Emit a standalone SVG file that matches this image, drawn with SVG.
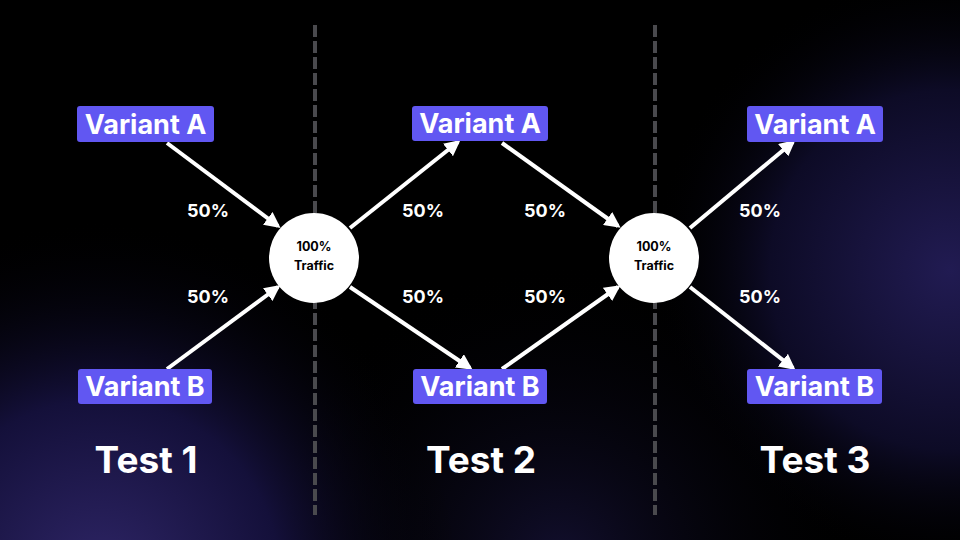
<svg xmlns="http://www.w3.org/2000/svg" width="960" height="540" viewBox="0 0 960 540">
<defs>
<radialGradient id="g1" cx="100" cy="580" r="360" gradientUnits="userSpaceOnUse">
<stop offset="0" stop-color="#2e2566"/><stop offset="0.5" stop-color="#14103a"/><stop offset="1" stop-color="#000000" stop-opacity="0"/>
</radialGradient>
<radialGradient id="g2" cx="950" cy="270" r="300" gradientUnits="userSpaceOnUse">
<stop offset="0" stop-color="#211b52"/><stop offset="0.6" stop-color="#0d0b26"/><stop offset="1" stop-color="#000000" stop-opacity="0"/>
</radialGradient>
<radialGradient id="g3" cx="560" cy="560" r="300" gradientUnits="userSpaceOnUse">
<stop offset="0" stop-color="#120f2e"/><stop offset="1" stop-color="#000000" stop-opacity="0"/>
</radialGradient>
<marker id="ah" viewBox="0 0 10 10" refX="8" refY="5" markerWidth="4" markerHeight="4" orient="auto" markerUnits="strokeWidth">
<path d="M0,0 L10,5 L0,10 z" fill="#ffffff"/>
</marker>
<style>
.box{fill:#6157f2}
.vt{font-family:Inter,"Noto Sans",sans-serif;font-weight:700;font-size:27px;fill:#ffffff;text-anchor:middle}
.pct{font-family:Inter,"Noto Sans",sans-serif;font-weight:700;font-size:18px;fill:#ffffff;text-anchor:middle}
.ct{font-family:Inter,"Noto Sans",sans-serif;font-weight:700;font-size:12.5px;fill:#000000;text-anchor:middle}
.tt{font-family:Inter,"Noto Sans",sans-serif;font-weight:700;font-size:37px;fill:#ffffff;text-anchor:middle}
.dash{stroke:#4a4a4e;stroke-width:4;stroke-dasharray:12 4}
.arr{stroke:#ffffff;stroke-width:4;fill:none;marker-end:url(#ah)}
</style>
</defs>
<rect width="960" height="540" fill="#000000"/>
<rect width="960" height="540" fill="url(#g3)"/>
<rect width="960" height="540" fill="url(#g1)"/>
<rect width="960" height="540" fill="url(#g2)"/>
<g id="dividers">
<line class="dash" x1="315" y1="25" x2="315" y2="515"/>
<line class="dash" x1="655" y1="25" x2="655" y2="515"/>
</g>
<g id="connectors">
<line class="arr" x1="167" y1="143" x2="278" y2="226"/>
<line class="arr" x1="167" y1="369" x2="278" y2="287"/>
<line class="arr" x1="350" y1="228" x2="458" y2="142"/>
<line class="arr" x1="350" y1="287" x2="470" y2="368"/>
<line class="arr" x1="502" y1="143" x2="618" y2="226"/>
<line class="arr" x1="502" y1="369" x2="618" y2="287"/>
<line class="arr" x1="690" y1="228" x2="793" y2="142"/>
<line class="arr" x1="690" y1="287" x2="793" y2="368"/>
</g>
<g id="labels">
<text class="pct" x="208" y="217">50%</text>
<text class="pct" x="208" y="303">50%</text>
<text class="pct" x="423" y="217">50%</text>
<text class="pct" x="423" y="303">50%</text>
<text class="pct" x="545" y="217">50%</text>
<text class="pct" x="545" y="303">50%</text>
<text class="pct" x="760" y="217">50%</text>
<text class="pct" x="760" y="303">50%</text>
</g>
<g id="t1a"><rect class="box" x="77" y="106" width="137" height="36" rx="3"/><text class="vt" x="145.5" y="133.5">Variant A</text></g>
<g id="t1b"><rect class="box" x="78" y="369" width="134" height="35" rx="3"/><text class="vt" x="145" y="396">Variant B</text></g>
<g id="t2a"><rect class="box" x="412" y="106" width="136" height="35" rx="3"/><text class="vt" x="480" y="133">Variant A</text></g>
<g id="t2b"><rect class="box" x="413" y="369" width="134" height="35" rx="3"/><text class="vt" x="480" y="396">Variant B</text></g>
<g id="t3a"><rect class="box" x="747" y="106" width="136" height="36" rx="3"/><text class="vt" x="815" y="133.5">Variant A</text></g>
<g id="t3b"><rect class="box" x="747" y="369" width="135" height="35" rx="3"/><text class="vt" x="814.5" y="396">Variant B</text></g>
<g id="hub1"><circle cx="314" cy="258" r="45" fill="#ffffff"/><text class="ct" x="314" y="251">100%</text><text class="ct" x="314" y="269.5">Traffic</text></g>
<g id="hub2"><circle cx="654" cy="258" r="45" fill="#ffffff"/><text class="ct" x="654" y="251">100%</text><text class="ct" x="654" y="269.5">Traffic</text></g>
<g id="titles">
<text class="tt" x="146" y="473">Test 1</text>
<text class="tt" x="481" y="473">Test 2</text>
<text class="tt" x="815" y="473">Test 3</text>
</g>
</svg>
